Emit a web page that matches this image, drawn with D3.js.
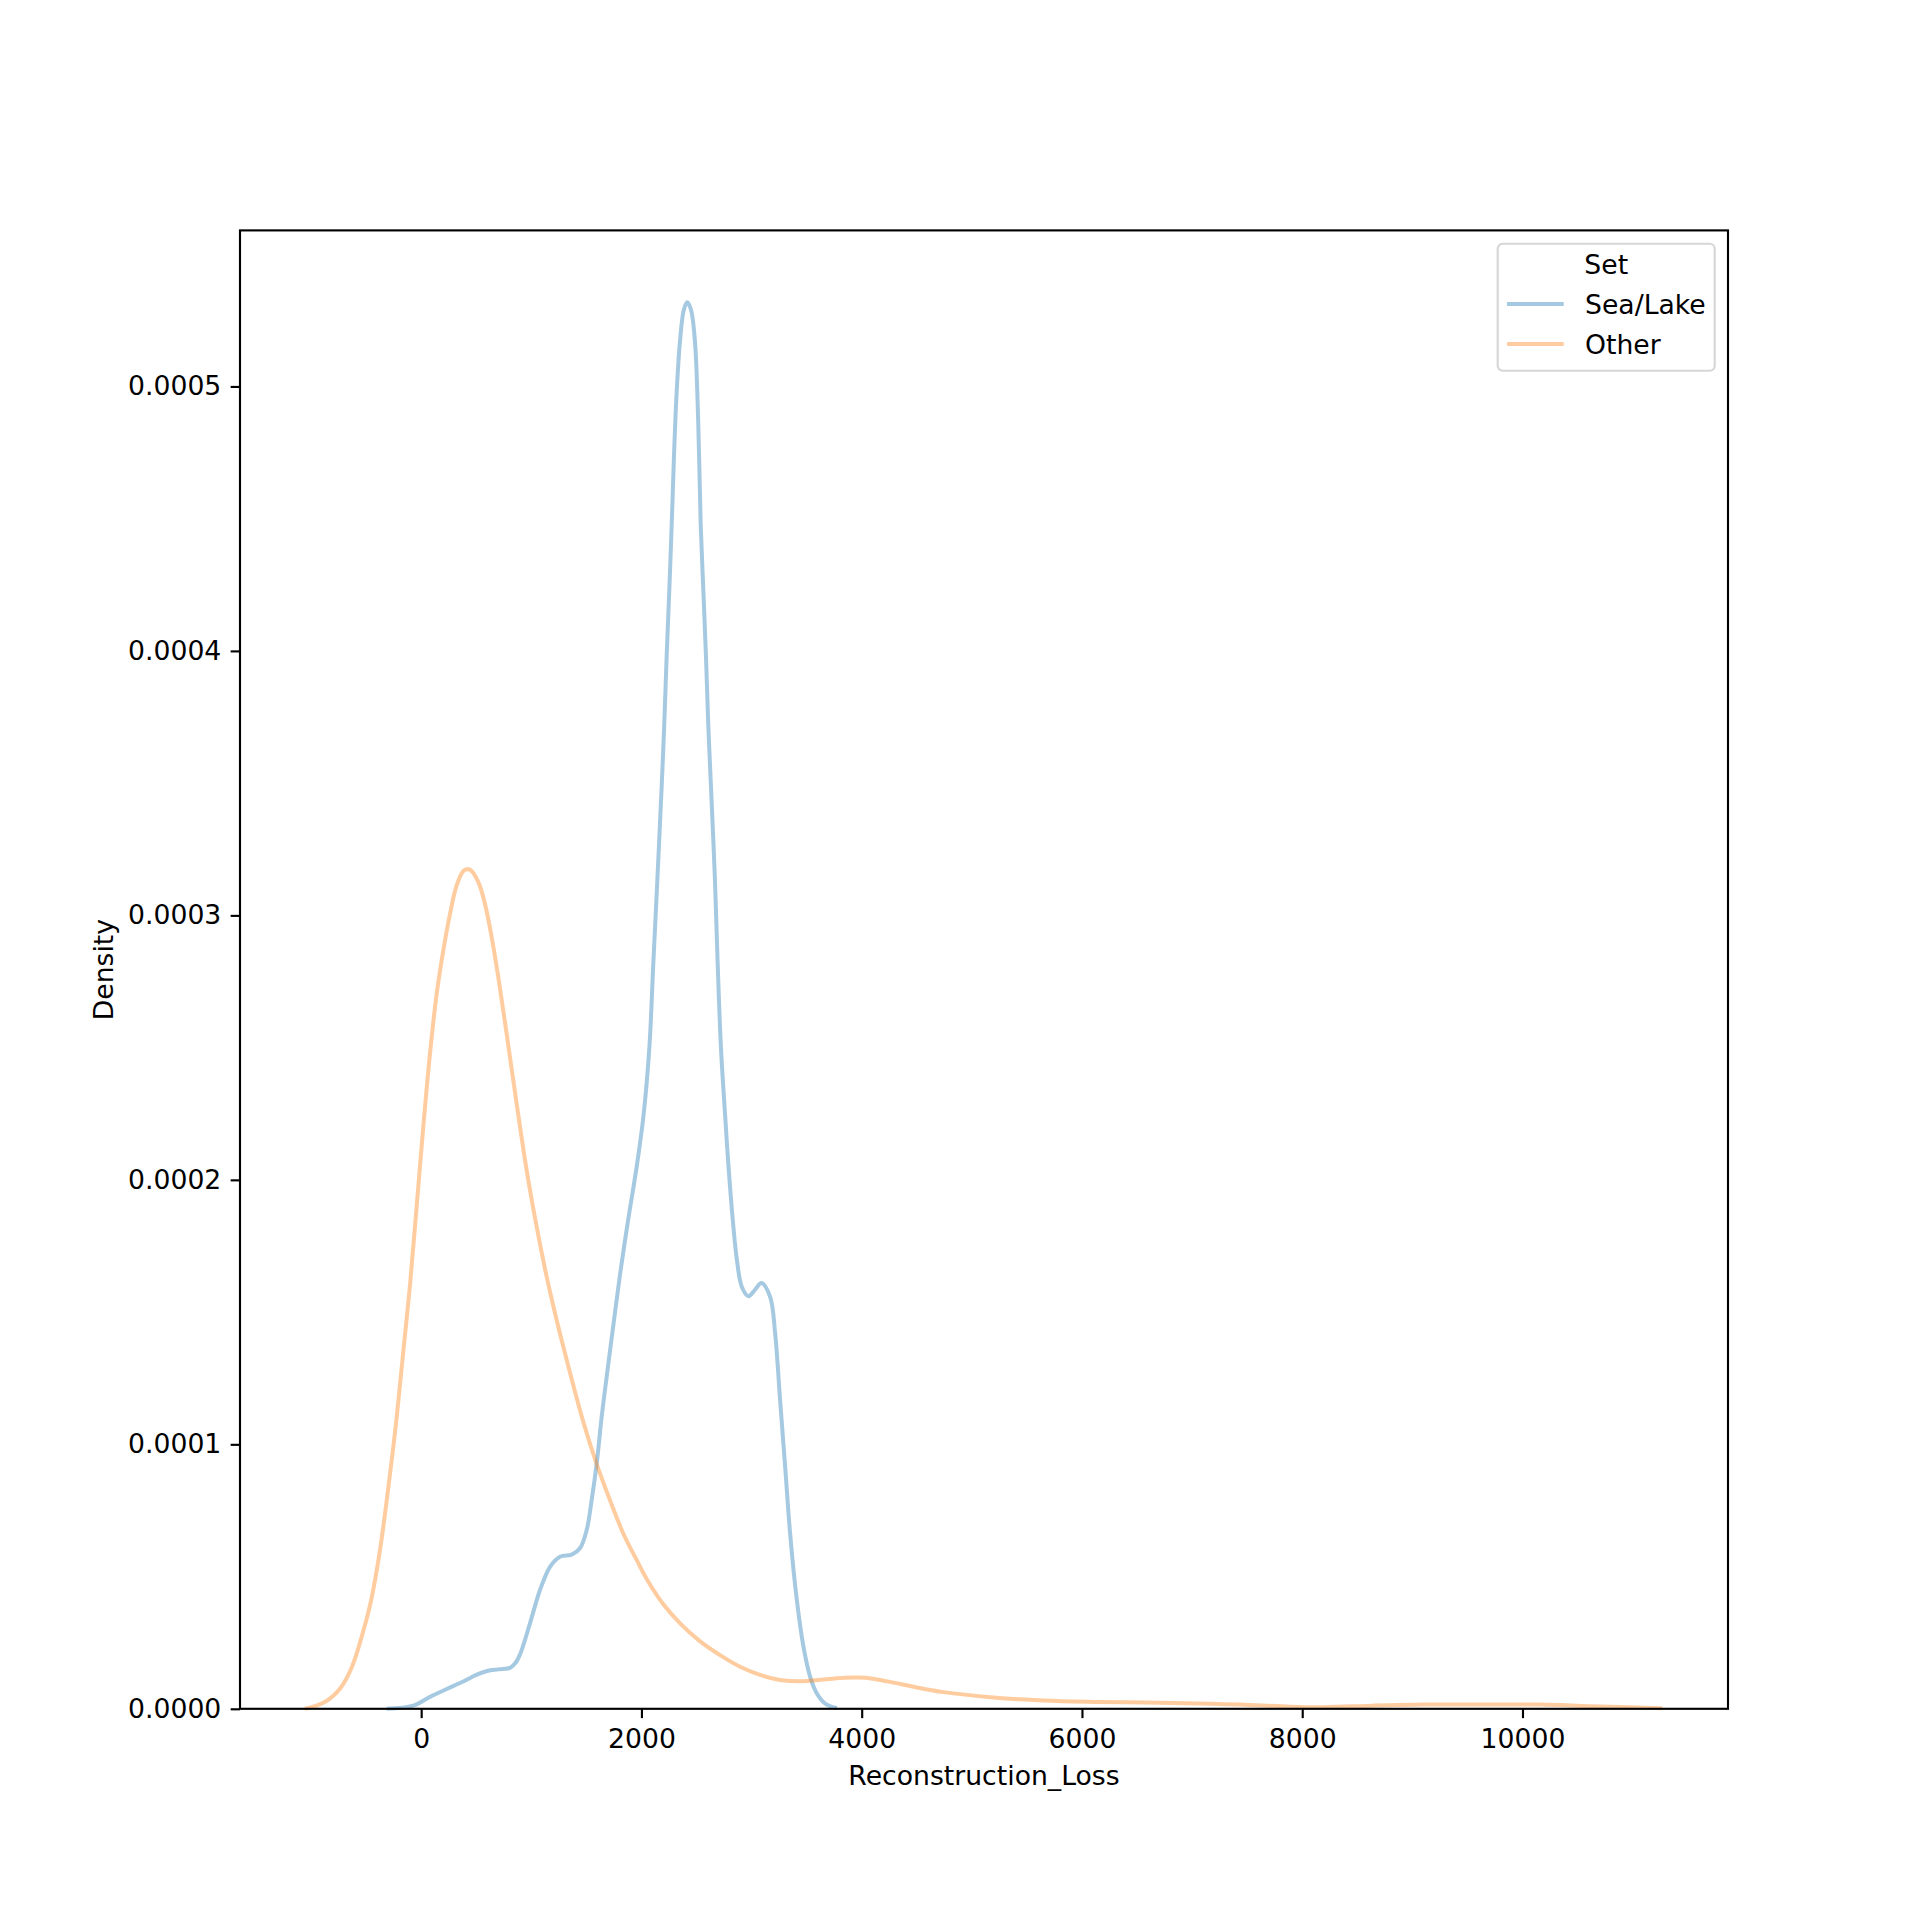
<!DOCTYPE html>
<html>
<head>
<meta charset="utf-8">
<script src="https://cdn.jsdelivr.net/npm/d3@7"></script>
<style>
    body { margin: 0; background: #fff; }
    svg text { font-family: 'DejaVu Sans', sans-serif; fill: #000; }
</style>
</head>
<body>
<svg class="canvas" width="1920" height="1920"></svg>
<script>
// density values are read in units of 1e-4
const DENSITY_UNIT = 1e-4;

const seriesNames = ['Sea/Lake', 'Other'];
const seriesColors = ['#1f77b4', '#ff7f0e'];

const seaLakeLoss = [-313, -72, 80, 232, 382, 500, 600, 700, 806, 850, 897, 988, 1079, 1170, 1261, 1367, 1442,
    1503, 1548, 1594, 1639, 1684, 1745, 1805, 1880, 1957, 2018, 2072, 2108, 2144, 2184, 2207, 2229, 2253,
    2275, 2295, 2320, 2350, 2385, 2416, 2450, 2486, 2516, 2538, 2562, 2586, 2607, 2631, 2668, 2692, 2722,
    2759, 2789, 2829, 2866, 2912, 2972, 3032, 3090, 3169, 3214, 3259, 3305, 3350, 3411, 3471, 3532, 3593,
    3668, 3775];
const seaLakeDensity = [0, 0.012, 0.045, 0.075, 0.103, 0.128, 0.143, 0.149, 0.155, 0.17, 0.205, 0.323, 0.449,
    0.537, 0.575, 0.583, 0.607, 0.676, 0.789, 0.928, 1.104, 1.255, 1.45, 1.64, 1.85, 2.05, 2.24, 2.5, 2.82,
    3.13, 3.49, 3.72, 3.98, 4.23, 4.48, 4.73, 4.98, 5.17, 5.29, 5.318, 5.29, 5.17, 4.86, 4.48, 4.23, 3.98,
    3.72, 3.49, 3.13, 2.82, 2.5, 2.25, 2.06, 1.85, 1.7, 1.595, 1.56, 1.585, 1.61, 1.557, 1.42, 1.167, 0.915,
    0.663, 0.411, 0.235, 0.121, 0.058, 0.02, 0.003];

const otherLoss = [-1056, -871, -732, -628, -526, -454, -374, -300, -223, -160, -102, -41, 19, 80, 141, 201,
    262, 322, 389, 443, 519, 579, 640, 700, 776, 867, 958, 1049, 1140, 1230, 1321, 1472, 1594, 1714, 1835,
    1960, 2049, 2199, 2351, 2533, 2714, 2896, 3077, 3259, 3441, 3684, 3850, 3956, 4100, 4300, 4440, 4743,
    5197, 5651, 6106, 6711, 7166, 7438, 7892, 8192, 8646, 9100, 9554, 10160, 10614, 11269];
const otherDensity = [0, 0.027, 0.079, 0.159, 0.293, 0.411, 0.6, 0.83, 1.1, 1.36, 1.6, 1.9, 2.2, 2.477, 2.704,
    2.868, 3.006, 3.113, 3.17, 3.173, 3.126, 3.044, 2.918, 2.767, 2.553, 2.288, 2.036, 1.822, 1.633, 1.47,
    1.32, 1.085, 0.925, 0.789, 0.663, 0.56, 0.49, 0.395, 0.323, 0.255, 0.203, 0.159, 0.128, 0.109, 0.104,
    0.112, 0.117, 0.118, 0.114, 0.098, 0.086, 0.063, 0.043, 0.031, 0.026, 0.023, 0.019, 0.016, 0.008, 0.006,
    0.012, 0.016, 0.016, 0.016, 0.01, 0.002];

const xTicks = [0, 2000, 4000, 6000, 8000, 10000];
const yTicks = [0, 0.0001, 0.0002, 0.0003, 0.0004, 0.0005];

const xDomain = [-1645, 11866];
const yDomain = [0, 0.000559];

/**
 * layout (matplotlib defaults scaled to a 1920px figure)
 */
const frame = {left: 240, right: 1728, top: 230.4, bottom: 1708.8};
const fontSize = 26.67;
const tickLen = 9.33;
const tickPad = 9.33;

const svg = d3.select('.canvas');

const x = d3.scaleLinear().domain(xDomain).range([frame.left, frame.right]);
const y = d3.scaleLinear().domain(yDomain).range([frame.bottom, frame.top]);

const series = [
    {name: seriesNames[0], color: seriesColors[0], loss: seaLakeLoss, density: seaLakeDensity},
    {name: seriesNames[1], color: seriesColors[1], loss: otherLoss, density: otherDensity}
];

// curves
const line = d3.line()
    .x(d => x(d[0]))
    .y(d => Math.min(y(d[1] * DENSITY_UNIT), frame.bottom))
    .curve(d3.curveCatmullRom.alpha(0.5));

const plot = svg.append('g').classed('plot', true);
series.forEach(function(s){
    plot.append('path')
        .datum(d3.zip(s.loss, s.density))
        .attr('d', line)
        .attr('fill', 'none')
        .attr('stroke', s.color)
        .attr('stroke-opacity', 0.4)
        .attr('stroke-width', 4)
        .attr('stroke-linejoin', 'round')
        .attr('stroke-linecap', 'butt');
});

// axes
const xAxis = svg.append('g')
    .attr('transform', 'translate(0,' + frame.bottom + ')')
    .call(d3.axisBottom(x).tickValues(xTicks).tickFormat(d3.format('d'))
        .tickSizeInner(tickLen).tickSizeOuter(0).tickPadding(tickPad));

const yAxis = svg.append('g')
    .attr('transform', 'translate(' + frame.left + ',0)')
    .call(d3.axisLeft(y).tickValues(yTicks).tickFormat(d3.format('.4f'))
        .tickSizeInner(tickLen).tickSizeOuter(0).tickPadding(tickPad));

[xAxis, yAxis].forEach(function(ax){
    ax.select('.domain').remove();
    ax.selectAll('.tick line').attr('stroke', '#000').attr('stroke-width', 2.13);
    ax.selectAll('.tick text')
        .style('font-family', "'DejaVu Sans', sans-serif")
        .style('font-size', fontSize + 'px')
        .attr('fill', '#000');
});
xAxis.selectAll('.tick text').attr('dy', '0.76em');

// frame
svg.append('rect')
    .attr('x', frame.left)
    .attr('y', frame.top)
    .attr('width', frame.right - frame.left)
    .attr('height', frame.bottom - frame.top)
    .attr('fill', 'none')
    .attr('stroke', '#000')
    .attr('stroke-width', 2.13);

// axis labels
svg.append('text')
    .attr('x', (frame.left + frame.right) / 2)
    .attr('y', 1785)
    .attr('text-anchor', 'middle')
    .style('font-size', fontSize + 'px')
    .text('Reconstruction_Loss');

svg.append('text')
    .attr('transform', 'translate(113,' + (frame.top + frame.bottom) / 2 + ') rotate(-90)')
    .attr('text-anchor', 'middle')
    .style('font-size', fontSize + 'px')
    .text('Density');

// legend
const legendBox = {x: 1497.7, y: 243.7, w: 217, h: 127};
const legend = svg.append('g').classed('legend', true)
    .attr('transform', 'translate(' + legendBox.x + ',' + legendBox.y + ')');

legend.append('rect')
    .attr('width', legendBox.w)
    .attr('height', legendBox.h)
    .attr('rx', 5)
    .attr('fill', '#fff')
    .attr('fill-opacity', 0.8)
    .attr('stroke', '#d6d6d6')
    .attr('stroke-width', 2.13);

legend.append('text')
    .attr('x', legendBox.w / 2)
    .attr('y', 21 + 9.6)
    .attr('text-anchor', 'middle')
    .style('font-size', fontSize + 'px')
    .text('Set');

const entries = legend.selectAll('g.entry')
    .data(series)
    .enter().append('g')
    .classed('entry', true)
    .attr('transform', (d, i) => 'translate(0,' + (60.3 + i * 40) + ')');

entries.append('line')
    .attr('x1', 9.3)
    .attr('x2', 66)
    .attr('stroke', d => d.color)
    .attr('stroke-opacity', 0.4)
    .attr('stroke-width', 4);

entries.append('text')
    .attr('x', 87.3)
    .attr('y', 9.6)
    .style('font-size', fontSize + 'px')
    .text(d => d.name);
</script>
</body>
</html>
